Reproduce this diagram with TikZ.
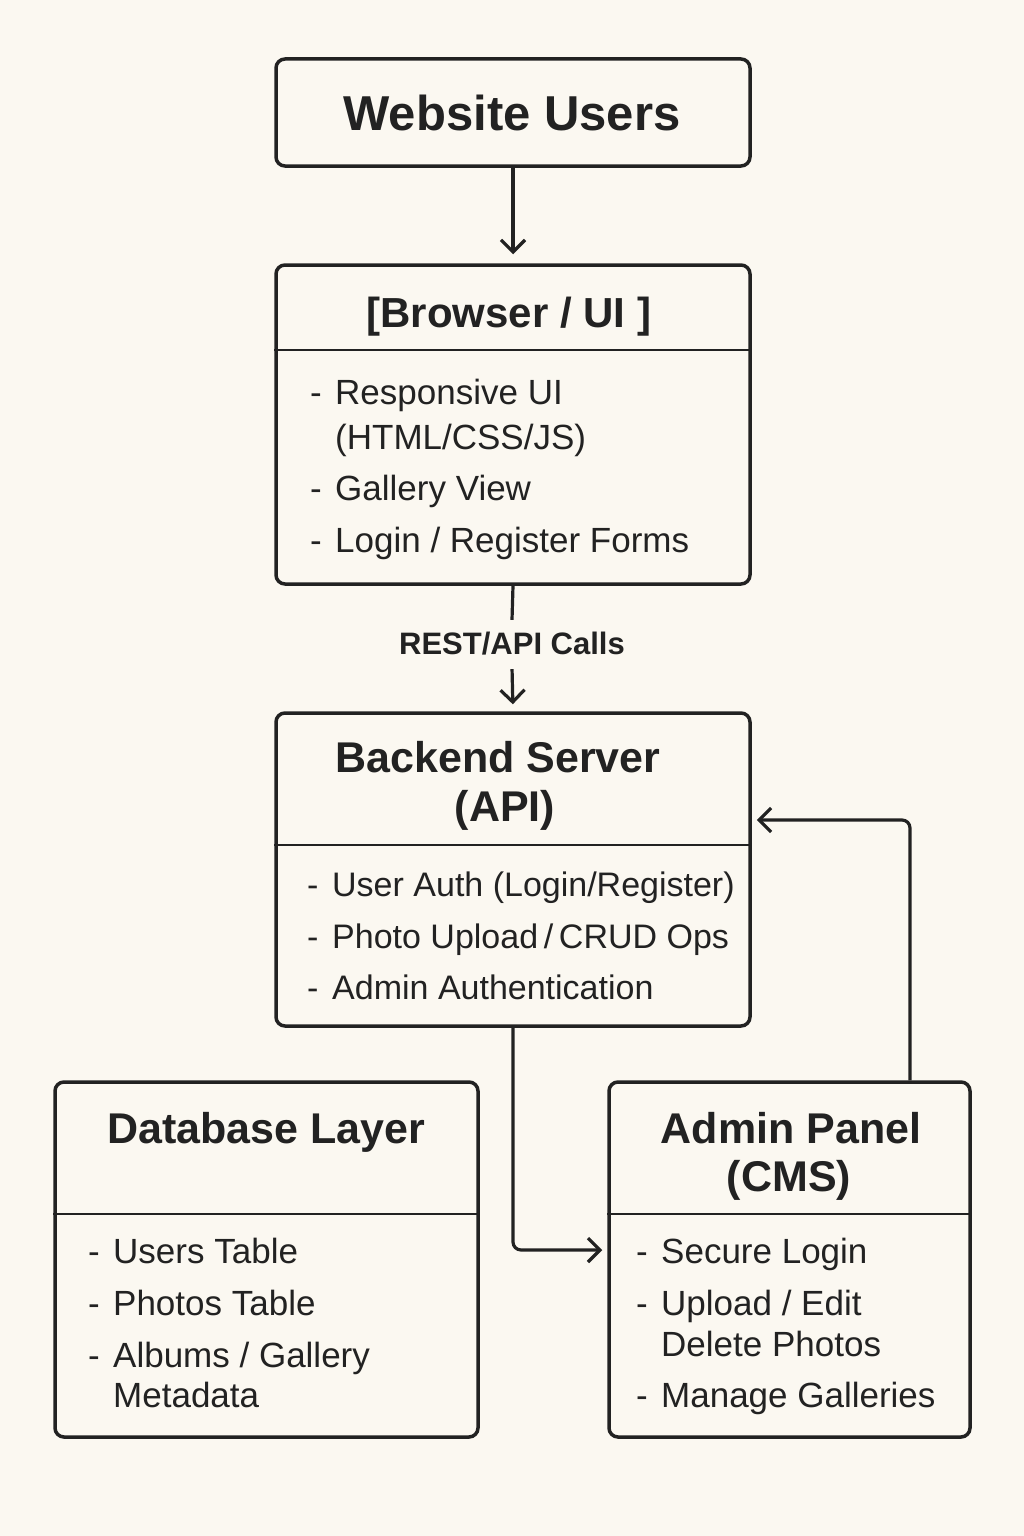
\documentclass[tikz,border=0pt]{standalone}
\usepackage{fontspec}
\setmainfont{Liberation Sans}
\usetikzlibrary{arrows.meta}
\definecolor{bgc}{HTML}{FBF8F1}
\definecolor{ink}{HTML}{222222}
\newcommand\dsh{\makebox[25pt][l]{-}}
\tikzset{
  box/.style={draw=ink, line width=3.5pt, rounded corners=9pt, inner sep=0pt, fill=bgc},
  ttl/.style={text=ink, font=\fontsize{43}{50}\selectfont\bfseries, anchor=base, inner sep=0pt},
  itm/.style={text=ink, font=\fontsize{35}{40}\selectfont, anchor=base west, inner sep=0pt},
  lbl/.style={text=ink, font=\fontsize{31}{34}\selectfont\bfseries, inner sep=0pt},
  conn/.style={draw=ink, line width=3.2pt},
  arr/.style={conn, -{Straight Barb[length=12pt, width=24pt, line width=3.2pt]}},
  divider/.style={draw=ink, line width=2.8pt}
}
\begin{document}
\begin{tikzpicture}[x=1pt, y=-1pt]
\useasboundingbox (0,0) rectangle (1024,1536);
\fill[bgc] (0,0) rectangle (1024,1536);

% boxes
\node[box, minimum width=474pt, minimum height=107pt] (users) at (513,112.5) {};
\node[box, minimum width=474pt, minimum height=319pt] (browser) at (513,424.5) {};
\node[box, minimum width=474pt, minimum height=313pt] (backend) at (513,869.5) {};
\node[box, minimum width=423pt, minimum height=355pt] (db) at (266.5,1259.5) {};
\node[box, minimum width=361pt, minimum height=355pt] (admin) at (789.5,1259.5) {};

% dividers
\draw[divider] (browser.west |- 0,350) -- (browser.east |- 0,350);
\draw[divider] (backend.west |- 0,845) -- (backend.east |- 0,845);
\draw[divider] (db.west |- 0,1214) -- (db.east |- 0,1214);
\draw[divider] (admin.west |- 0,1214) -- (admin.east |- 0,1214);

% titles
\node[ttl, font=\fontsize{49}{56}\selectfont\bfseries] (tusers) at (512,131) {Website Users};
\node[ttl, font=\fontsize{42}{50}\selectfont\bfseries] (tbrowser) at (509,327) {[Browser / UI ]};
\node[ttl] (tbackend1) at (498,772) {Backend Server};
\node[ttl] (tbackend2) at (505,821) {(API)};
\node[ttl] (tdb) at (266,1143) {Database Layer};
\node[ttl] (tadmin1) at (791,1143) {Admin Panel};
\node[ttl] (tadmin2) at (789,1191) {(CMS)};

% browser items
\node[itm] (b1) at (310,404) {\dsh Responsive UI};
\node[itm] (b1b) at (335,449) {(HTML/CSS/JS)};
\node[itm] (b2) at (310,500) {\dsh Gallery View};
\node[itm] (b3) at (310,552) {\dsh Login / Register Forms};

% backend items
\node[itm, font=\fontsize{34}{40}\selectfont] (k1) at (307,896) {\dsh User Auth (Login/Register)};
\node[itm, font=\fontsize{34}{40}\selectfont] (k2) at (307,948) {\dsh Photo Upload\,/\,CRUD Ops};
\node[itm, font=\fontsize{34}{40}\selectfont] (k3) at (307,999) {\dsh Admin Authentication};

% database items
\node[itm] (d1) at (88,1263) {\dsh Users Table};
\node[itm] (d2) at (88,1315) {\dsh Photos Table};
\node[itm] (d3) at (88,1367) {\dsh Albums / Gallery};
\node[itm] (d3b) at (113,1407) {Metadata};

% admin items
\node[itm] (a1) at (636,1263) {\dsh Secure Login};
\node[itm] (a2) at (636,1315) {\dsh Upload / Edit};
\node[itm] (a2b) at (661,1356) {Delete Photos};
\node[itm] (a3) at (636,1407) {\dsh Manage Galleries};

% connectors
\draw[arr, shorten >=9pt] (users.south) -- (browser.north);
\node[lbl, minimum height=47pt] (rest) at (512,643.5) {REST/API Calls};
\draw[conn] (browser.south) -- (rest.north);
\draw[arr, shorten >=7pt, shorten <=2pt] (rest.south) -- (backend.north);

\coordinate (ain) at ([yshift=9.5pt]admin.west);
\draw[arr, rounded corners=8pt, shorten >=5pt] (backend.south) |- (ain);
\coordinate (aout) at ([xshift=120.5pt]admin.north);
\coordinate (bin) at ([yshift=49.5pt]backend.east);
\draw[arr, rounded corners=8pt, shorten >=5pt] (aout) |- (bin);
\end{tikzpicture}
\end{document}
